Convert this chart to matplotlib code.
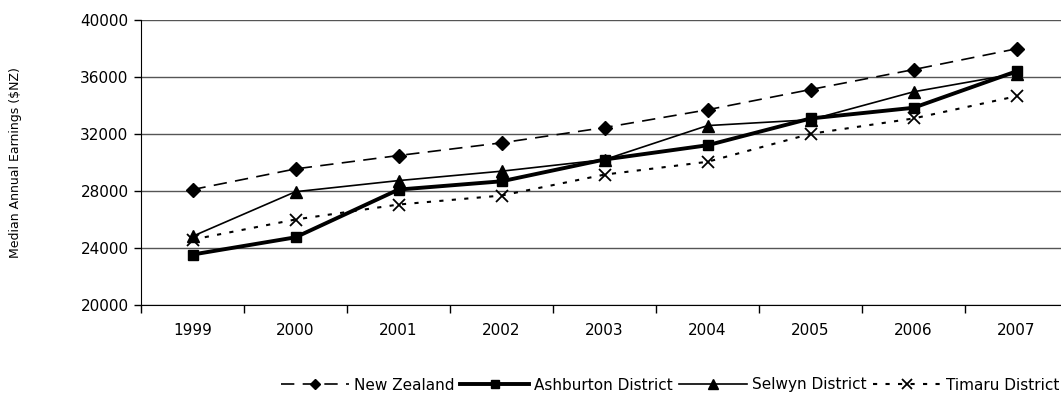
import matplotlib
matplotlib.use("Agg")
import matplotlib.pyplot as plt

years = ["1999", "2000", "2001", "2002", "2003", "2004", "2005", "2006", "2007"]
new_zealand = [28100, 29550, 30490, 31380, 32450, 33700, 35120, 36520, 37980]
ashburton = [23540, 24750, 28100, 28680, 30210, 31210, 33090, 33840, 36400]
selwyn = [24820, 27950, 28730, 29390, 30200, 32590, 33000, 34960, 36240]
timaru = [24590, 26000, 27050, 27680, 29150, 30050, 32010, 33090, 34650]

plt.rcParams['font.family'] = ['DejaVu Sans']

fig = plt.figure(figsize=(10.61, 4.04), dpi=100)
# axis runs a bit past the right edge of the picture, as in the original
ax = fig.add_axes([141 / 1061, 1 - 305 / 404, 927 / 1061, 285 / 404])

x = list(range(len(years)))
ax.plot(x, new_zealand, color="black", lw=1.2, ls=(0, (8, 5)), marker="D", ms=7,
        label="New Zealand")
ax.plot(x, ashburton, color="black", lw=2.8, ls="-", marker="s", ms=7,
        label="Ashburton District")
ax.plot(x, selwyn, color="black", lw=1.2, ls="-", marker="^", ms=9,
        label="Selwyn District")
ax.plot(x, timaru, color="black", lw=1.5, ls=(0, (2, 4)), marker="x", ms=9, mew=1.3,
        label="Timaru District")

ax.set_xlim(-0.5, len(years) - 0.5)
ax.set_ylim(20000, 40000)
ax.set_yticks(range(20000, 40001, 4000))
ax.set_xticks(x)
ax.set_xticklabels(years)
ax.set_xticks([i - 0.5 for i in range(len(years) + 1)], minor=True)
ax.tick_params(axis="x", which="major", length=0, pad=13, labelsize=11)
ax.tick_params(axis="x", which="minor", length=6, width=1)
ax.tick_params(axis="y", length=5, width=1, pad=4, labelsize=11)

ax.yaxis.grid(True, color="#555555", lw=1)
ax.set_axisbelow(True)
for s in ["top", "right"]:
    ax.spines[s].set_visible(False)
ax.spines["left"].set_color("black")
ax.spines["bottom"].set_color("black")

ax.set_ylabel("Median Annual Earnings ($NZ)", fontsize=9, labelpad=42)

fig.legend(loc="center", bbox_to_anchor=(670 / 1061, 1 - 385 / 404), ncol=4,
           frameon=False, fontsize=11, handlelength=4.5, handletextpad=0.3,
           columnspacing=0.4, markerscale=0.75)

fig.savefig("out.png", dpi=100)
